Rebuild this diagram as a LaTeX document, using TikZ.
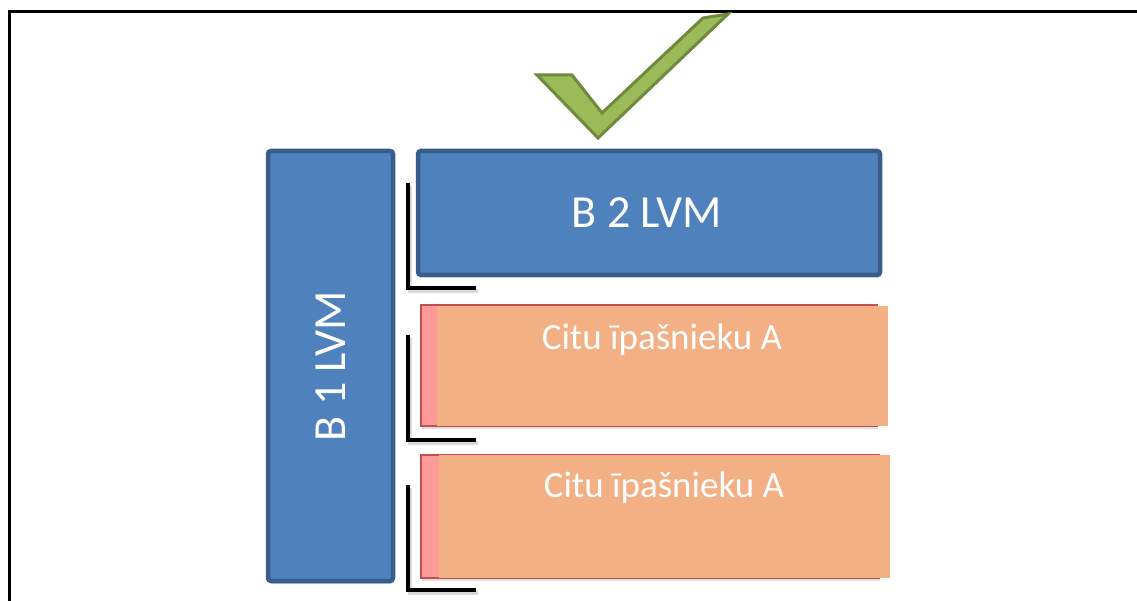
\documentclass[tikz,border=0pt]{standalone}
\usepackage{fontspec}
\setmainfont{Carlito}
\usetikzlibrary{shadows}
\definecolor{bluefill}{HTML}{4F81BD}
\definecolor{blueedge}{HTML}{385D8A}
\definecolor{orangefill}{HTML}{F2B084}
\definecolor{pinkfill}{HTML}{FF9A9A}
\definecolor{pinkedge}{HTML}{C0504D}
\definecolor{checkfill}{HTML}{9BBB59}
\definecolor{checkedge}{HTML}{71893F}
\tikzset{
  bluebox/.style={draw=blueedge, line width=4.5pt, fill=bluefill, rounded corners=3pt,
    drop shadow={shadow xshift=1pt, shadow yshift=-3pt, opacity=0.25}},
  pinkbox/.style={draw=pinkedge, line width=1.5pt, fill=pinkfill,
    drop shadow={shadow xshift=1pt, shadow yshift=-3pt, opacity=0.25}},
  orangebox/.style={fill=orangefill},
  bracket/.style={draw=black, line width=3.5pt},
  bracketshadow/.style={draw=black!25, line width=4pt, opacity=0.6},
  bigtext/.style={text=white, font=\fontsize{46}{55}\selectfont},
  midtext/.style={text=white, font=\fontsize{37}{44}\selectfont},
  frameline/.style={draw=black, line width=3pt}
}
\begin{document}
\begin{tikzpicture}[x=1pt, y=-1pt]
\useasboundingbox (0,0) rectangle (1137,601);
% frame
\coordinate (fTR) at (1140,12);
\coordinate (fTL) at (9,12);
\coordinate (fBL) at (9,604);
\draw[frameline] (fTR) -- (fTL) -- (fBL);
% check mark
\filldraw[fill=checkfill, draw=checkedge, line width=3pt, line join=miter]
  (537,75) -- (572,75) -- (602,113) -- (703,18) -- (728,14) -- (598,138) -- cycle;
% B1
\path[bluebox] (268,151) rectangle (393,581);
\node[bigtext, rotate=90] (b1) at (330.5,366) {B 1 LVM};
% B2
\path[bluebox] (418,151) rectangle (880,275);
\node[bigtext] (b2) at (647,213) {B 2 LVM};
% brackets
\path[bracketshadow] (410,186) -- (410,291) -- (478,291);
\path[bracket] (408,183) -- (408,288) -- (476,288);
\path[bracketshadow] (410,338) -- (410,443) -- (478,443);
\path[bracket] (408,335) -- (408,440) -- (476,440);
\path[bracketshadow] (410,488) -- (410,593) -- (478,593);
\path[bracket] (408,485) -- (408,590) -- (476,590);
% orange 1
\path[pinkbox] (421,305) rectangle (877,426);
\path[orangebox] (437,306) rectangle (888,426);
\node[midtext] (c1) at (662,340) {Citu īpašnieku A};
% orange 2
\path[pinkbox] (421,455) rectangle (879,578);
\path[orangebox] (439,455) rectangle (890,578);
\node[midtext] (c2) at (664,488) {Citu īpašnieku A};
\end{tikzpicture}
\end{document}
